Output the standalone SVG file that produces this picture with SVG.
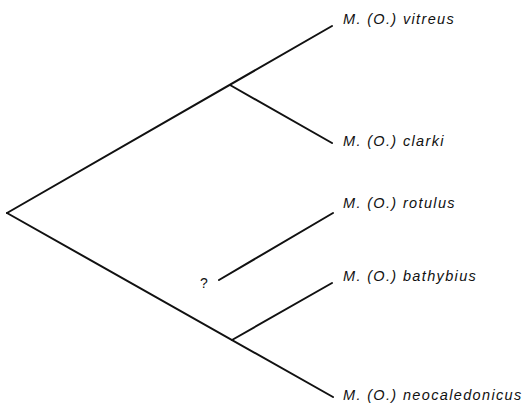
<svg xmlns="http://www.w3.org/2000/svg" width="527" height="404" viewBox="0 0 527 404">
<style>
.br{stroke:#111;stroke-width:2;fill:none;stroke-linecap:round}
.lb{font-family:"Liberation Sans",Arial,sans-serif;font-size:14.5px;font-style:italic;fill:#111;letter-spacing:1.35px}
.q{font-family:"Liberation Sans",Arial,sans-serif;font-size:14px;fill:#111}
</style>
<rect width="527" height="404" fill="#fff"/>
<g id="connectors">
<line class="br" x1="7" y1="213" x2="332" y2="26"/>
<line class="br" x1="7" y1="213" x2="333" y2="397"/>
<line class="br" x1="230" y1="85" x2="332" y2="143"/>
<line class="br" x1="232" y1="340" x2="332" y2="283"/>
<line class="br" x1="219" y1="280" x2="333" y2="213"/>
</g>
<g id="vitreus"><text class="lb" x="343" y="24">M. (O.) vitreus</text></g>
<g id="clarki"><text class="lb" x="343" y="146">M. (O.) clarki</text></g>
<g id="rotulus"><text class="lb" x="343" y="208">M. (O.) rotulus</text></g>
<g id="bathybius"><text class="lb" x="343" y="281">M. (O.) bathybius</text></g>
<g id="neocaledonicus"><text class="lb" x="343" y="400">M. (O.) neocaledonicus</text></g>
<g id="unknown"><text class="q" x="200" y="288">?</text></g>
</svg>
